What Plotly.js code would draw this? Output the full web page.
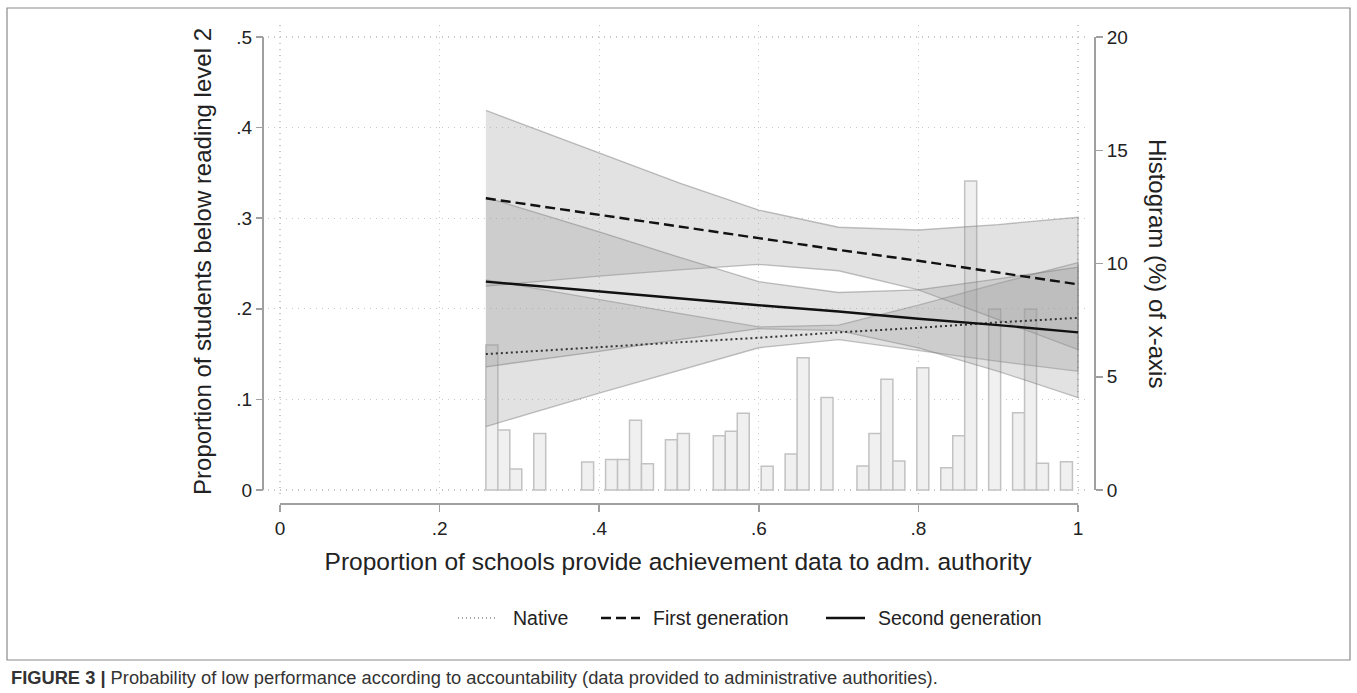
<!DOCTYPE html>
<html><head><meta charset="utf-8">
<script src="https://cdn.plot.ly/plotly-3.0.1.min.js"></script>
<style>html,body{margin:0;padding:0;background:#fff;}#chart{width:1357px;height:693px;}</style>
</head><body><div id="chart"></div>
<script>
// ---- data ----
const xPts = [0.258, 0.4, 0.5, 0.6, 0.7, 0.8, 0.9, 1.0];

const nativeMean = [0.150, 0.158, 0.163, 0.168, 0.174, 0.179, 0.185, 0.190];
const nativeLow  = [0.070, 0.107, 0.132, 0.157, 0.166, 0.154, 0.142, 0.131];
const nativeHigh = [0.232, 0.210, 0.195, 0.180, 0.182, 0.204, 0.228, 0.251];

const firstMean = [0.322, 0.304, 0.291, 0.278, 0.265, 0.253, 0.240, 0.227];
const firstLow  = [0.225, 0.236, 0.243, 0.249, 0.242, 0.221, 0.188, 0.155];
const firstHigh = [0.419, 0.372, 0.339, 0.309, 0.290, 0.287, 0.293, 0.301];

const secondMean = [0.230, 0.219, 0.212, 0.204, 0.197, 0.189, 0.182, 0.174];
const secondLow  = [0.136, 0.153, 0.166, 0.178, 0.176, 0.157, 0.131, 0.102];
const secondHigh = [0.323, 0.285, 0.257, 0.230, 0.218, 0.221, 0.233, 0.246];

const binCenters = [0.2655, 0.2805, 0.2955, 0.3255, 0.3855, 0.4155, 0.4305, 0.4455, 0.4605,
  0.4905, 0.5055, 0.5505, 0.5655, 0.5805, 0.6105, 0.6405, 0.6555, 0.6855, 0.7305, 0.7455,
  0.7605, 0.7755, 0.8055, 0.8355, 0.8505, 0.8655, 0.8955, 0.9255, 0.9405, 0.9555, 0.9855];
const binPercent = [6.4, 2.65, 0.93, 2.5, 1.24, 1.35, 1.35, 3.08, 1.16,
  2.22, 2.5, 2.4, 2.59, 3.39, 1.05, 1.59, 5.84, 4.08, 1.06, 2.5,
  4.89, 1.28, 5.4, 0.98, 2.4, 13.64, 7.98, 3.41, 7.98, 1.18, 1.25];
const binWidth = 0.015;

const yTicksLeft = [0, 0.1, 0.2, 0.3, 0.4, 0.5];
const yTickTextLeft = ['0', '.1', '.2', '.3', '.4', '.5'];
const xTicks = [0, 0.2, 0.4, 0.6, 0.8, 1];
const xTickText = ['0', '.2', '.4', '.6', '.8', '1'];
const yTicksRight = [0, 5, 10, 15, 20];

const seriesNames = ['Native', 'First generation', 'Second generation'];

// ---- geometry / styling ----
const W = 1357, H = 693;
const L = 263, R = 1095, T = 25, B = 504;
const pX = px => (px - L) / (R - L);
const pY = py => (B - py) / (B - T);
const xRange = [-0.015, 1.0125];
const yDomain = [pY(498), 1];
const y2Range = [-0.00883, 0.51325];
const y1Range = [-0.353, 20.53];
const xDomain = [pX(268), pX(1088)];
const xToPaper = v => xDomain[0] + (v - xRange[0]) / (xRange[1] - xRange[0]) * (xDomain[1] - xDomain[0]);
const y2ToPaper = v => yDomain[0] + (v - y2Range[0]) / (y2Range[1] - y2Range[0]) * (yDomain[1] - yDomain[0]);

const FONT = 'Liberation Sans, Arial, sans-serif';
const bandFill = 'rgba(150,150,150,0.28)';
const bandLine = 'rgba(120,120,120,0.45)';
const lineStyles = [
  {color: '#333', width: 2, dash: '2px,3px'},
  {color: '#111', width: 2.4, dash: '10px,5px'},
  {color: '#111', width: 2.4}
];

function band(lo, hi) {
  return {
    type: 'scatter', mode: 'lines', xaxis: 'x', yaxis: 'y2',
    x: xPts.concat(xPts.slice().reverse()),
    y: hi.concat(lo.slice().reverse()),
    fill: 'toself', fillcolor: bandFill,
    line: {color: bandLine, width: 1.3},
    showlegend: false, hoverinfo: 'skip'
  };
}

const traces = [
  {
    type: 'bar', xaxis: 'x', yaxis: 'y',
    x: binCenters, y: binPercent, width: binWidth,
    marker: {color: '#f0f0f0', line: {color: '#c2c2c2', width: 1.5}},
    showlegend: false, hoverinfo: 'skip'
  },
  band(nativeLow, nativeHigh),
  band(firstLow, firstHigh),
  band(secondLow, secondHigh),
  {type: 'scatter', mode: 'lines', xaxis: 'x', yaxis: 'y2', x: xPts, y: nativeMean,
   name: seriesNames[0], line: lineStyles[0], showlegend: false},
  {type: 'scatter', mode: 'lines', xaxis: 'x', yaxis: 'y2', x: xPts, y: firstMean,
   name: seriesNames[1], line: lineStyles[1], showlegend: false},
  {type: 'scatter', mode: 'lines', xaxis: 'x', yaxis: 'y2', x: xPts, y: secondMean,
   name: seriesNames[2], line: lineStyles[2], showlegend: false}
];

const axisGrey = '#a0a0a0';
const tickFont = {family: FONT, size: 19, color: '#222'};

// legend keys (sample start px, text start px)
const legendKeys = [[458, 511], [601, 651], [826, 876]];
const legendY = 618;
const legendShapes = legendKeys.map((k, i) => ({
  type: 'line', xref: 'paper', yref: 'paper',
  x0: pX(k[0]), x1: pX(k[0] + 39), y0: pY(legendY), y1: pY(legendY),
  line: i === 0 ? {color: '#888', width: 1.5, dash: '1px,3px'} : lineStyles[i]
}));
const legendTexts = legendKeys.map((k, i) => ({
  xref: 'paper', yref: 'paper', x: pX(k[1]), y: pY(legendY), xanchor: 'left', yanchor: 'middle',
  text: seriesNames[i], showarrow: false, font: {family: FONT, size: 19.5, color: '#222'}
}));

const layout = {
  width: W, height: H,
  margin: {l: L, r: W - R, t: T, b: H - B, pad: 0},
  paper_bgcolor: '#fff', plot_bgcolor: 'rgba(0,0,0,0)',
  font: {family: FONT, color: '#222'},
  showlegend: false,
  xaxis: {
    domain: xDomain, range: xRange, anchor: 'free', position: 0,
    tickvals: xTicks, ticktext: xTickText, ticks: 'outside', ticklen: 7, tickwidth: 1.5,
    tickcolor: axisGrey, tickfont: tickFont, showline: false, zeroline: false,
    showgrid: true, gridcolor: '#c8c8c8', gridwidth: 1.2, griddash: '1px,5px',
    title: {text: 'Proportion of schools provide achievement data to adm. authority',
            font: {family: FONT, size: 24.5, color: '#222'}, standoff: 15}
  },
  yaxis: {
    domain: yDomain, range: y1Range, anchor: 'free', position: 1, side: 'right',
    tickvals: yTicksRight, ticks: 'outside', ticklen: 7, tickwidth: 1.5, tickcolor: axisGrey,
    tickfont: tickFont, showline: false, zeroline: false, showgrid: false
  },
  yaxis2: {
    domain: yDomain, range: y2Range, overlaying: 'y', anchor: 'free', position: 0, side: 'left',
    tickvals: yTicksLeft, ticktext: yTickTextLeft, ticks: 'outside', ticklen: 7, tickwidth: 1.5,
    tickcolor: axisGrey, tickfont: tickFont, showline: false, zeroline: false,
    showgrid: true, gridcolor: '#c8c8c8', gridwidth: 1.2, griddash: '1px,5px',
    title: {text: 'Proportion of students below reading level 2',
            font: {family: FONT, size: 24, color: '#222'}, standoff: 16}
  },
  shapes: [
    {type: 'line', xref: 'paper', yref: 'paper', x0: 0, x1: 0, y0: y2ToPaper(0), y1: y2ToPaper(0.5),
     line: {color: axisGrey, width: 2}},
    {type: 'line', xref: 'paper', yref: 'paper', x0: 1, x1: 1, y0: y2ToPaper(0), y1: y2ToPaper(0.5),
     line: {color: axisGrey, width: 2}},
    {type: 'line', xref: 'paper', yref: 'paper', x0: xToPaper(0), x1: xToPaper(1), y0: 0, y1: 0,
     line: {color: axisGrey, width: 2}},
    {type: 'rect', xref: 'paper', yref: 'paper', x0: pX(7), x1: pX(1350), y0: pY(660), y1: pY(8),
     line: {color: '#8a8a8a', width: 1.2}, fillcolor: 'rgba(0,0,0,0)'}
  ].concat(legendShapes),
  annotations: [
    {xref: 'paper', yref: 'paper', x: pX(1158), y: pY(263), text: 'Histogram (%) of x-axis',
     textangle: 90, showarrow: false, font: {family: FONT, size: 24, color: '#222'},
     xanchor: 'center', yanchor: 'middle'},
    {xref: 'paper', yref: 'paper', x: pX(9), y: pY(677), xanchor: 'left', yanchor: 'middle',
     showarrow: false, align: 'left',
     text: '<b>FIGURE 3 |</b> Probability of low performance according to accountability (data provided to administrative authorities).',
     font: {family: FONT, size: 18.3, color: '#333'}}
  ].concat(legendTexts)
};

Plotly.newPlot('chart', traces, layout, {staticPlot: true, displayModeBar: false});
</script></body></html>
